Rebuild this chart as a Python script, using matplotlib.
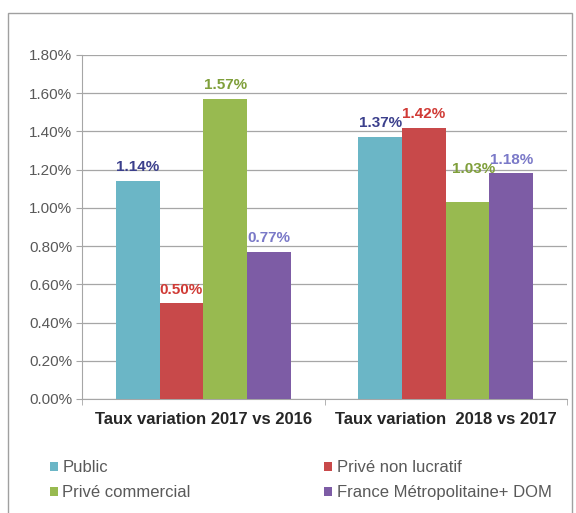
import matplotlib
matplotlib.use("Agg")
from matplotlib import pyplot as plt
from matplotlib.patches import Rectangle
import numpy as np

plt.rcParams['font.family'] = ['Liberation Sans', 'DejaVu Sans']

categories = ['Taux variation 2017 vs 2016', 'Taux variation  2018 vs 2017']
series = ['Public', 'Privé non lucratif', 'Privé commercial', 'France Métropolitaine+ DOM']
public = [1.14, 1.37]
prive_nl = [0.50, 1.42]
prive_com = [1.57, 1.03]
france = [0.77, 1.18]
yticks = [0.0, 0.2, 0.4, 0.6, 0.8, 1.0, 1.2, 1.4, 1.6, 1.8]

bar_colors = ['#6BB6C6', '#C8494A', '#98BA50', '#7D5CA5']
label_colors = ['#3B3F8C', '#D03A35', '#7F9F3A', '#7A79C8']

fig = plt.figure(figsize=(5.76, 5.13), dpi=100)
ax = fig.add_axes([82 / 576, 1 - 399 / 513, 485 / 576, 344 / 513])

x = np.arange(len(categories))
w = 0.18
values = [public, prive_nl, prive_com, france]
handles = []
for i, vals in enumerate(values):
    pos = x + (i - 1.5) * w
    bars = ax.bar(pos, vals, w, color=bar_colors[i], label=series[i], zorder=3)
    handles.append(bars)
    for j, b in enumerate(bars):
        dy = 5
        dx = 0
        if i == 2 and j == 1:  # this label sits higher in the original
            dy = 19
            dx = 4
        ax.annotate('%.2f%%' % vals[j], (b.get_x() + b.get_width() / 2, vals[j]),
                    xytext=(dx, dy), textcoords='offset points', ha='center', va='bottom',
                    fontsize=11, fontweight='bold', color=label_colors[i], zorder=4)

ax.set_xlim(-0.5, 1.5)
ax.set_ylim(0, 1.8)
ax.set_yticks(yticks)
ax.set_yticklabels(['%.2f%%' % t for t in yticks], fontsize=11, color='#595959')
ax.yaxis.grid(True, color='#A6A6A6', linewidth=0.9, zorder=0)
ax.tick_params(axis='y', length=4, color='#A6A6A6', pad=3)

ax.set_xticks(x)
ax.set_xticklabels(categories, fontsize=12, fontweight='bold', color='#262626')
ax.set_xticks([-0.5, 0.5, 1.5], minor=True)
ax.tick_params(axis='x', which='major', length=0, pad=9)
ax.tick_params(axis='x', which='minor', length=4, color='#A6A6A6')

for s in ['top', 'right']:
    ax.spines[s].set_visible(False)
ax.spines['left'].set_color('#A6A6A6')
ax.spines['bottom'].set_color('#A6A6A6')

# legend: Public / Privé non lucratif on first row
order = [0, 2, 1, 3]
leg = fig.legend([handles[k] for k in order], [series[k] for k in order],
                 loc='upper left', bbox_to_anchor=(50 / 576, 1 - 460 / 513), ncol=2, frameon=False,
                 fontsize=12, handlelength=0.45, handleheight=0.45, handletextpad=0.3,
                 columnspacing=8.0, labelspacing=0.62, borderaxespad=0, borderpad=0)
for t in leg.get_texts():
    t.set_color('#595959')

# chart border
fig.patches.append(Rectangle((8 / 576, -0.05), 564 / 576, 1 - 13 / 513 + 0.05,
                             transform=fig.transFigure, fill=False,
                             edgecolor='#A0A0A0', linewidth=1.0))

fig.savefig('out.png', dpi=100)
plt.close(fig)
